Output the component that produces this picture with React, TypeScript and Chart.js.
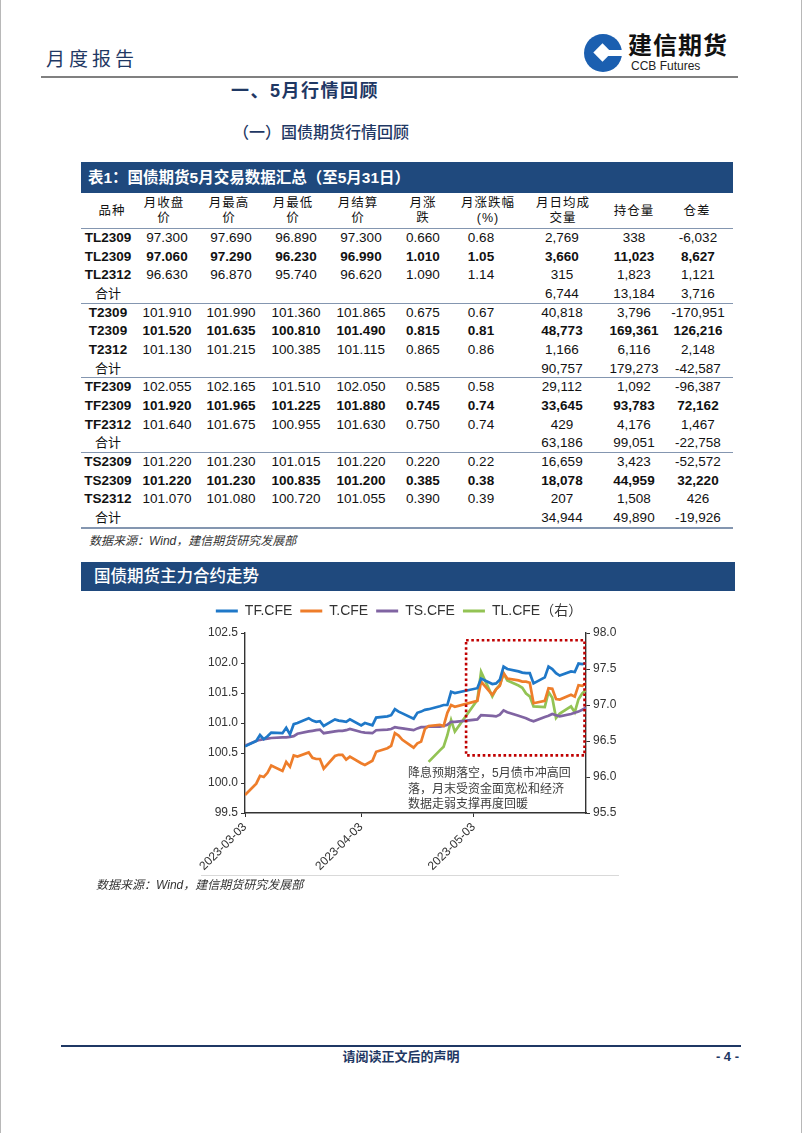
import React, { useEffect, useRef } from "react";
import { Chart, registerables } from "chart.js";

Chart.register(...registerables);

// ---------------- chart data ----------------
const DATES = [
  "2023-03-03","2023-03-06","2023-03-07","2023-03-08","2023-03-09","2023-03-10","2023-03-13","2023-03-14","2023-03-15","2023-03-16","2023-03-17",
  "2023-03-20","2023-03-21","2023-03-22","2023-03-23","2023-03-24","2023-03-27","2023-03-28","2023-03-29","2023-03-30","2023-03-31",
  "2023-04-03","2023-04-04","2023-04-06","2023-04-07","2023-04-10","2023-04-11","2023-04-12","2023-04-13","2023-04-14","2023-04-17",
  "2023-04-18","2023-04-19","2023-04-20","2023-04-21","2023-04-24","2023-04-25","2023-04-26","2023-04-27","2023-04-28",
  "2023-05-04","2023-05-05","2023-05-08","2023-05-09","2023-05-10","2023-05-11","2023-05-12","2023-05-15","2023-05-16","2023-05-17",
  "2023-05-18","2023-05-19","2023-05-22","2023-05-23","2023-05-24","2023-05-25","2023-05-26","2023-05-29","2023-05-30","2023-05-31",
  "2023-06-01","2023-06-02",
];

const TF_CFE = [
  100.61,100.70,100.80,100.73,100.78,100.84,100.83,100.92,100.81,100.98,101.00,
  101.08,101.04,101.02,101.03,100.95,101.06,101.04,101.03,101.02,101.06,
  100.96,101.00,100.96,101.09,101.11,101.13,101.23,101.19,101.16,101.07,
  101.17,101.19,101.22,101.23,101.28,101.30,101.30,101.52,101.50,
  101.58,101.74,101.65,101.66,101.72,101.94,101.90,101.86,101.84,101.83,
  101.83,101.66,101.76,101.94,101.90,101.83,101.79,101.86,101.85,101.99,
  101.98,102.00,
];

const T_CFE = [
  99.80,99.99,100.12,100.10,100.17,100.29,100.20,100.35,100.27,100.46,100.44,
  100.51,100.42,100.40,100.40,100.24,100.45,100.47,100.47,100.39,100.44,
  100.33,100.30,100.37,100.52,100.58,100.62,100.83,100.79,100.72,100.59,
  100.66,100.69,100.90,100.95,100.97,100.95,101.17,101.30,101.27,
  101.37,101.69,101.47,101.56,101.62,101.83,101.74,101.71,101.69,101.69,
  101.67,101.33,101.37,101.58,101.57,101.40,101.39,101.47,101.44,101.63,
  101.62,101.66,
];

const TS_CFE = [
  100.62,100.70,100.72,100.73,100.74,100.75,100.76,100.76,100.77,100.78,100.82,
  100.86,100.87,100.88,100.89,100.83,100.86,100.87,100.87,100.88,100.90,
  100.85,100.84,100.83,100.88,100.89,100.90,100.93,100.92,100.91,100.88,
  100.91,100.93,100.93,100.94,100.94,100.95,100.97,101.02,101.02,
  101.06,101.13,101.12,101.11,101.14,101.21,101.18,101.12,101.10,101.08,
  101.05,101.03,101.10,101.12,101.15,101.13,101.11,101.15,101.17,101.19,
  101.22,101.26,
];

// TL (30y) listed on 2023-04-21
const TL_CFE: (number | null)[] = [
  null,null,null,null,null,null,null,null,null,null,null,
  null,null,null,null,null,null,null,null,null,null,
  null,null,null,null,null,null,null,null,null,null,
  null,null,null,96.21,96.37,96.42,96.58,96.79,96.63,
  97.07,97.46,97.12,97.22,97.28,97.44,97.34,97.27,97.24,97.16,
  97.12,96.98,96.97,97.18,97.10,96.82,96.88,96.98,96.90,97.08,
  97.16,97.21,
];

const SERIES_NAMES = ["TF.CFE", "T.CFE", "TS.CFE", "TL.CFE（右）"];
const X_MIN_DATE = "2023-03-03";
const X_MAX_DATE = "2023-06-02";
const X_TICK_LABELS = ["2023-03-03", "2023-04-03", "2023-05-03"];
const LEFT_RANGE = [99.5, 102.5];
const RIGHT_RANGE = [95.5, 98.0];
const AXIS_STEP = 0.5;
const ANNOT_BOX = { from: "2023-05-01", to: "2023-06-02", top: 97.9, bottom: 96.3 };
const ANNOT_TEXT = ["降息预期落空，5月债市冲高回", "落，月末受资金面宽松和经济", "数据走弱支撑再度回暖"];

// ---------------- table data ----------------
const TABLE_HEAD = [["品种"], ["月收盘", "价"], ["月最高", "价"], ["月最低", "价"], ["月结算", "价"], ["月涨", "跌"], ["月涨跌幅", "(%)"], ["月日均成", "交量"], ["持仓量"], ["仓差"]];
const TL_ROWS = [
  ["TL2309", "97.300", "97.690", "96.890", "97.300", "0.660", "0.68", "2,769", "338", "-6,032"],
  ["TL2309", "97.060", "97.290", "96.230", "96.990", "1.010", "1.05", "3,660", "11,023", "8,627"],
  ["TL2312", "96.630", "96.870", "95.740", "96.620", "1.090", "1.14", "315", "1,823", "1,121"],
  ["合计", "", "", "", "", "", "", "6,744", "13,184", "3,716"],
];
const T_ROWS = [
  ["T2309", "101.910", "101.990", "101.360", "101.865", "0.675", "0.67", "40,818", "3,796", "-170,951"],
  ["T2309", "101.520", "101.635", "100.810", "101.490", "0.815", "0.81", "48,773", "169,361", "126,216"],
  ["T2312", "101.130", "101.215", "100.385", "101.115", "0.865", "0.86", "1,166", "6,116", "2,148"],
  ["合计", "", "", "", "", "", "", "90,757", "179,273", "-42,587"],
];
const TF_ROWS = [
  ["TF2309", "102.055", "102.165", "101.510", "102.050", "0.585", "0.58", "29,112", "1,092", "-96,387"],
  ["TF2309", "101.920", "101.965", "101.225", "101.880", "0.745", "0.74", "33,645", "93,783", "72,162"],
  ["TF2312", "101.640", "101.675", "100.955", "101.630", "0.750", "0.74", "429", "4,176", "1,467"],
  ["合计", "", "", "", "", "", "", "63,186", "99,051", "-22,758"],
];
const TS_ROWS = [
  ["TS2309", "101.220", "101.230", "101.015", "101.220", "0.220", "0.22", "16,659", "3,423", "-52,572"],
  ["TS2309", "101.220", "101.230", "100.835", "101.200", "0.385", "0.38", "18,078", "44,959", "32,220"],
  ["TS2312", "101.070", "101.080", "100.720", "101.055", "0.390", "0.39", "207", "1,508", "426"],
  ["合计", "", "", "", "", "", "", "34,944", "49,890", "-19,926"],
];
const TABLE_GROUPS = [TL_ROWS, T_ROWS, TF_ROWS, TS_ROWS];

// ---------------- layout ----------------
const COL_X = [107, 166, 230, 295, 360, 422, 480, 561, 633, 697];
const HEAD_X = [111, 163, 228, 292, 357, 422, 487, 562, 633, 696];
const CJK = "'Liberation Sans', 'Noto Sans CJK SC', 'Noto Sans', sans-serif";
const LAT = "'Liberation Sans', Arial, 'Noto Sans CJK SC', sans-serif";
const NAVY = "#1F3864";
const BANNER = "#1F497D";
const RULE = "#8496B0";
const COLORS = ["#1F78C8", "#EE7D2A", "#8064A2", "#93C354"];

const START_MS = Date.UTC(2023, 2, 3);
function dayIndex(s: string): number {
  const [y, m, d] = s.split("-").map(Number);
  return Math.round((Date.UTC(y, m - 1, d) - START_MS) / 86400000);
}

function ChartBlock() {
  const ref = useRef<HTMLCanvasElement | null>(null);
  useEffect(() => {
    if (!ref.current) return;
    const seriesList = [TF_CFE, T_CFE, TS_CFE, TL_CFE];
    const datasets = seriesList.map((vals, k) => ({
      label: SERIES_NAMES[k],
      data: DATES.map((d, i) => ({ x: dayIndex(d), y: vals[i] })),
      borderColor: COLORS[k],
      backgroundColor: COLORS[k],
      borderWidth: 2.7,
      pointRadius: 0,
      tension: 0,
      spanGaps: false,
      yAxisID: k === 3 ? "y1" : "y",
    }));
    const boxPlugin = {
      id: "annotBox",
      afterDatasetsDraw(chart: any) {
        const { ctx, scales } = chart;
        const x0 = scales.x.getPixelForValue(dayIndex(ANNOT_BOX.from));
        const x1 = scales.x.getPixelForValue(dayIndex(ANNOT_BOX.to)) - 1.5;
        const y0 = scales.y1.getPixelForValue(ANNOT_BOX.top);
        const y1 = scales.y1.getPixelForValue(ANNOT_BOX.bottom);
        ctx.save();
        ctx.setLineDash([2.6, 2.6]);
        ctx.lineWidth = 2.6;
        ctx.strokeStyle = "#C00000";
        ctx.strokeRect(x0, y0, x1 - x0, y1 - y0);
        ctx.restore();
      },
    };
    const legendHeight = {
      id: "legendHeight",
      beforeInit(chart: any) {
        const lg = chart.legend;
        if (!lg) return;
        const orig = lg.fit;
        lg.fit = function () {
          orig.call(this);
          this.height = 37;
        };
      },
    };
    const axisCommon = {
      grid: { display: true, drawOnChartArea: false, drawTicks: true, tickLength: 4, color: "#333" },
      border: { display: true, color: "#333", width: 1.4 },
    };
    const chart = new Chart(ref.current, {
      type: "line",
      data: { datasets },
      plugins: [boxPlugin, legendHeight],
      options: {
        animation: false,
        responsive: true,
        maintainAspectRatio: false,
        layout: { padding: 0 },
        font: { family: LAT },
        plugins: {
          tooltip: { enabled: false },
          legend: {
            position: "top",
            align: "center",
            labels: {
              boxWidth: 22,
              boxHeight: 3,
              padding: 8,
              color: "#333",
              font: { size: 14, family: LAT },
              generateLabels: (c: any) => {
                const items = (Chart.defaults.plugins.legend.labels as any).generateLabels(c);
                items.forEach((it: any) => {
                  it.lineWidth = 0;
                  it.fillStyle = it.strokeStyle;
                });
                return items;
              },
            },
          },
        },
        scales: {
          x: {
            type: "linear",
            min: dayIndex(X_MIN_DATE),
            max: dayIndex(X_MAX_DATE),
            afterBuildTicks: (s: any) => {
              s.ticks = X_TICK_LABELS.map((l) => ({ value: dayIndex(l) }));
            },
            afterFit: (s: any) => {
              s.height = 65;
            },
            ticks: {
              autoSkip: false,
              minRotation: 45,
              maxRotation: 45,
              color: "#333",
              font: { size: 12, family: LAT },
              callback: (v: any) => X_TICK_LABELS.find((l) => dayIndex(l) === Number(v)) || "",
            },
            ...axisCommon,
          },
          y: {
            position: "left",
            min: LEFT_RANGE[0],
            max: LEFT_RANGE[1],
            afterFit: (s: any) => {
              s.width = 73;
            },
            ticks: {
              stepSize: AXIS_STEP,
              color: "#333",
              font: { size: 12, family: LAT },
              callback: (v: any) => Number(v).toFixed(1),
            },
            ...axisCommon,
          },
          y1: {
            position: "right",
            min: RIGHT_RANGE[0],
            max: RIGHT_RANGE[1],
            afterFit: (s: any) => {
              s.width = 40;
            },
            ticks: {
              stepSize: AXIS_STEP,
              color: "#333",
              font: { size: 12, family: LAT },
              callback: (v: any) => Number(v).toFixed(1),
            },
            ...axisCommon,
          },
        },
      } as any,
    });
    return () => chart.destroy();
  }, []);
  return (
    <div style={{ position: "absolute", left: 171, top: 596, width: 454, height: 282 }}>
      <canvas ref={ref} />
    </div>
  );
}

function abs(left: number, top: number, extra: React.CSSProperties = {}): React.CSSProperties {
  return { position: "absolute", left, top, whiteSpace: "nowrap", ...extra };
}

export default function App() {
  const rowCells: React.ReactNode[] = [];
  TABLE_GROUPS.forEach((group, gi) => {
    group.forEach((row, ri) => {
      const cy = 238 + gi * 74.7 + ri * 18.6;
      row.forEach((cell, ci) => {
        if (!cell) return;
        const isTotal = cell === "合计";
        rowCells.push(
          <div
            key={`${gi}-${ri}-${ci}`}
            style={{
              position: "absolute",
              left: COL_X[ci] - 28,
              width: 56,
              top: cy - 8,
              height: 16,
              lineHeight: "16px",
              textAlign: "center",
              whiteSpace: "nowrap",
              fontFamily: isTotal ? CJK : LAT,
              fontSize: isTotal ? 13 : 13.5,
              fontWeight: isTotal ? 400 : ci === 0 || ri === 1 ? 700 : 400,
              color: "#111",
            }}
          >
            {cell}
          </div>
        );
      });
    });
  });

  return (
    <div
      style={{
        position: "absolute",
        left: 0,
        top: 0,
        width: 802,
        height: 1133,
        background: "#fff",
        overflow: "hidden",
        fontFamily: CJK,
        boxSizing: "border-box",
        borderLeft: "1px solid #b8b8b8",
        borderRight: "1px solid #b8b8b8",
      }}
    >
      {/* header */}
      <div style={abs(45, 49, { fontSize: 19, lineHeight: "22px", letterSpacing: 4, color: NAVY })}>月度报告</div>
      <svg style={{ position: "absolute", left: 582, top: 33 }} width="40" height="40" viewBox="0 0 40 40">
        <circle cx="20" cy="20" r="19" fill="#1B5FB0" />
        <rect x="13" y="13" width="13" height="13" fill="#fff" transform="rotate(45 19.5 19.5)" />
        <rect x="25" y="17" width="16" height="6" fill="#fff" />
      </svg>
      <div style={abs(627, 33, { fontSize: 24, lineHeight: "26px", fontWeight: 700, color: "#111", letterSpacing: 1 })}>建信期货</div>
      <div style={abs(630, 60, { fontSize: 12, lineHeight: "13px", fontFamily: LAT, color: "#222" })}>CCB Futures</div>
      <div style={abs(40, 76, { width: 697, height: 2, background: "#808080" })} />
      <div style={abs(230, 81, { fontSize: 18, lineHeight: "20px", fontWeight: 700, color: NAVY, letterSpacing: 1.5 })}>一、5月行情回顾</div>
      <div style={abs(232, 124, { fontSize: 16, lineHeight: "18px", fontWeight: 500, color: NAVY })}>（一）国债期货行情回顾</div>

      {/* table */}
      <div style={abs(80, 162, { width: 652, height: 31, background: BANNER })} />
      <div style={abs(87, 162, { height: 31, lineHeight: "31px", fontSize: 15.5, fontWeight: 700, color: "#fff" })}>
        表1：国债期货5月交易数据汇总（至5月31日）
      </div>
      {TABLE_HEAD.map((lines, ci) =>
        lines.length === 1 ? (
          <div key={`h${ci}`} style={abs(HEAD_X[ci] - 29, 203, { width: 58, textAlign: "center", fontSize: 12.5, letterSpacing: 1, lineHeight: "16px", color: "#111" })}>
            {lines[0]}
          </div>
        ) : (
          <React.Fragment key={`h${ci}`}>
            <div style={abs(HEAD_X[ci] - 29, 195.5, { width: 58, textAlign: "center", fontSize: 12.5, letterSpacing: 1, lineHeight: "15px", color: "#111" })}>
              {lines[0]}
            </div>
            <div style={abs(HEAD_X[ci] - 29, 211, { width: 58, textAlign: "center", fontSize: 12.5, letterSpacing: 1, lineHeight: "15px", color: "#111" })}>
              {lines[1]}
            </div>
          </React.Fragment>
        )
      )}
      <div style={abs(80, 228, { width: 652, height: 1, background: RULE })} />
      {rowCells}
      {[302.5, 377.2, 451.9].map((y, i) => (
        <div key={`sep${i}`} style={abs(80, y, { width: 652, height: 1.3, background: RULE })} />
      ))}
      <div style={abs(80, 527, { width: 652, height: 2, background: RULE })} />
      <div style={abs(88, 534, { fontSize: 12, lineHeight: "15px", fontStyle: "italic", color: "#333" })}>数据来源：Wind，建信期货研究发展部</div>

      {/* chart section */}
      <div style={abs(80, 562, { width: 654, height: 29, background: BANNER })} />
      <div style={abs(93, 562, { height: 29, lineHeight: "29px", fontSize: 16.5, fontWeight: 500, color: "#fff" })}>国债期货主力合约走势</div>
      <ChartBlock />
      <div style={abs(407, 766, { fontSize: 12, lineHeight: "15.5px", color: "#404040" })}>
        {ANNOT_TEXT.map((t, i) => (
          <div key={i}>{t}</div>
        ))}
      </div>
      <div style={abs(200, 875, { width: 418, height: 1, background: "#D9D9D9" })} />
      <div style={abs(95, 878, { fontSize: 12, lineHeight: "15px", fontStyle: "italic", color: "#333" })}>数据来源：Wind，建信期货研究发展部</div>

      {/* footer */}
      <div style={abs(60, 1045, { width: 680, height: 2, background: NAVY })} />
      <div style={abs(300, 1049, { width: 200, textAlign: "center", fontSize: 13, lineHeight: "16px", fontWeight: 700, color: NAVY })}>请阅读正文后的声明</div>
      <div style={abs(700, 1049, { width: 38, textAlign: "right", fontSize: 13, lineHeight: "16px", fontWeight: 700, color: NAVY, fontFamily: LAT })}>- 4 -</div>
    </div>
  );
}
